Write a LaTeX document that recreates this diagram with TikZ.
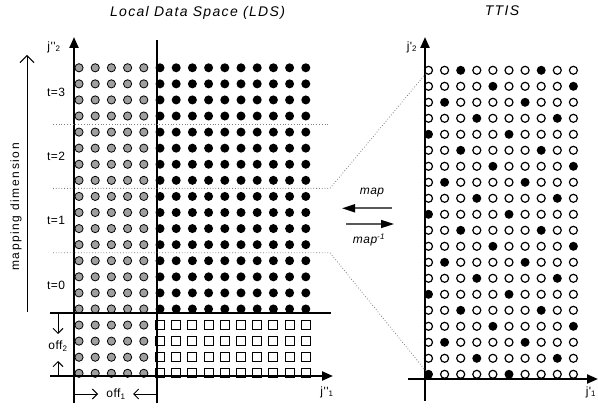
\documentclass[tikz,border=0pt]{standalone}
\usepackage{fontspec}
\setmainfont{Liberation Sans}
\newfontfamily\lblfont[LetterSpace=4]{Liberation Sans}
\newfontfamily\titlefont[LetterSpace=9.5]{Liberation Sans}
\newfontfamily\dimfont[LetterSpace=13]{Liberation Sans}
\usetikzlibrary{arrows.meta,calc,positioning}

\begin{document}
\begin{tikzpicture}[x=1pt,y=-1pt,>=Stealth,
  axis/.style={line width=2.2pt,-{Triangle[length=11pt,width=9pt]}},
  cutline/.style={line width=1.2pt},
  band/.style={gray,dotted,line width=0.8pt},
  barb/.style={line width=1pt,-{Straight Barb[length=5pt,width=10pt]}},
  greydot/.style={circle,draw,fill=gray!75,line width=0.8pt,inner sep=0pt,minimum size=8.2pt},
  fulldot/.style={circle,fill=black,inner sep=0pt,minimum size=9pt},
  opendot/.style={circle,draw,line width=1.2pt,inner sep=0pt,minimum size=8pt},
  hole/.style={rectangle,draw,line width=0.9pt,inner sep=0pt,minimum size=9pt},
  lbl/.style={font=\lblfont\fontsize{12}{14}\selectfont,inner sep=0pt},
  title/.style={font=\titlefont\itshape\fontsize{14}{16}\selectfont,inner sep=0pt},
  maparrow/.style={draw=black!65,line width=1.6pt,-{Triangle[length=13pt,width=8pt,color=black]}}]
  \useasboundingbox (0,0) rectangle (598,409);

  % local data space
  \foreach \j in {0,...,19}{
    \foreach \i in {0,...,4}
      \node[greydot] (l\i-\j) at ({79+16.2*\i},{373.3-16.08*\j}) {};
    \foreach \i in {5,...,14}{
      \ifnum\j<4
        \node[hole] (l\i-\j) at ({79+16.2*\i},{373.3-16.08*\j}) {};
      \else
        \node[fulldot] (l\i-\j) at ({79+16.2*\i},{373.3-16.08*\j}) {};
      \fi}
  }

  % tiled iteration space
  \foreach \r in {0,...,19}
    \foreach \c in {0,...,9}{
      \pgfmathtruncatemacro\hit{mod(\c+200-3*\r,5)}
      \ifnum\hit=0
        \node[fulldot] (t\c-\r) at ({428.5+16.1*\c},{374.3-16*\r}) {};
      \else
        \node[opendot] (t\c-\r) at ({428.5+16.1*\c},{374.3-16*\r}) {};
      \fi}

  \coordinate (ly0) at (74,403);   \coordinate (ly1) at (74,37);
  \coordinate (lx0) at (50,376);   \coordinate (lx1) at (333,376);
  \coordinate (cut0) at (157,403); \coordinate (cut1) at (157,40);
  \coordinate (low0) at (50,313);  \coordinate (low1) at (331,313);
  \coordinate (ty0) at (425,401);  \coordinate (ty1) at (425,37);
  \coordinate (tx0) at (408,379);  \coordinate (tx1) at (598,379);

  \draw[cutline] (cut0) -- (cut1);
  \draw[cutline] (low0) -- (low1);
  \draw[axis] (ly0) -- (ly1);
  \draw[axis] (lx0) -- (lx1);
  \draw[axis] (ty0) -- (ty1);
  \draw[axis] (tx0) -- (tx1);

  \node[lbl] (j2) at (54,47) {j''\textsubscript{2}};
  \node[lbl] (j1) at (327,392) {j''\textsubscript{1}};
  \node[lbl] (k2) at (412,47) {j'\textsubscript{2}};
  \node[lbl] (k1) at (591,392) {j'\textsubscript{1}};

  % time bands
  \coordinate (b3a) at (53,124.1);  \coordinate (b3b) at (328,124.1);
  \coordinate (b2a) at (53,188.4);  \coordinate (b2b) at (330,188.4);
  \coordinate (b1a) at (53,252.7);  \coordinate (b1b) at (330,252.7);
  \draw[band] (b3a) -- (b3b);
  \draw[band] (b2a) -- (b2b) -- (t0-19);
  \draw[band] (b1a) -- (b1b) -- (t0-0);
  \node[lbl] (t0) at (56,284.9) {t=0};
  \node[lbl] (t1) at (56,220.5) {t=1};
  \node[lbl] (t2) at (56,156.2) {t=2};
  \node[lbl] (t3) at (56,91.9) {t=3};

  \coordinate (dim0) at (27,312); \coordinate (dim1) at (27,55);
  \draw[line width=1pt,-{Straight Barb[length=7pt,width=14pt]}] (dim0) -- (dim1);
  \node[font=\dimfont\fontsize{12}{14}\selectfont,rotate=90] (dim) at (16,207) {mapping dimension};

  % offsets
  \coordinate (o2a) at (58,313); \coordinate (o2b) at (58,334);
  \coordinate (o2c) at (58,376); \coordinate (o2d) at (58,361);
  \draw[barb] (o2a) -- (o2b);
  \draw[barb] (o2c) -- (o2d);
  \node[lbl] (off2) at (58,346) {off\textsubscript{2}};
  \coordinate (o1a) at (74,394);  \coordinate (o1b) at (98,394);
  \coordinate (o1c) at (157,394); \coordinate (o1d) at (133,394);
  \draw[barb] (o1a) -- (o1b);
  \draw[barb] (o1c) -- (o1d);
  \node[lbl] (off1) at (116,394) {off\textsubscript{1}};

  % map / inverse map
  \coordinate (mR) at (392,208.3); \coordinate (mL) at (342,208.3);
  \coordinate (nL) at (346,224);   \coordinate (nR) at (394,224);
  \draw[maparrow] (mR) -- (mL);
  \draw[maparrow] (nL) -- (nR);
  \node[lbl,font=\lblfont\itshape\fontsize{12}{14}\selectfont] (map) at (372,193) {map};
  \node[lbl,font=\lblfont\itshape\fontsize{12}{14}\selectfont] (imap) at (369,240) {map\textsuperscript{-1}};

  \node[title] (lds) at (197.5,13) {Local Data Space (LDS)};
  \node[title] (ttis) at (502,11) {TTIS};
\end{tikzpicture}
\end{document}
